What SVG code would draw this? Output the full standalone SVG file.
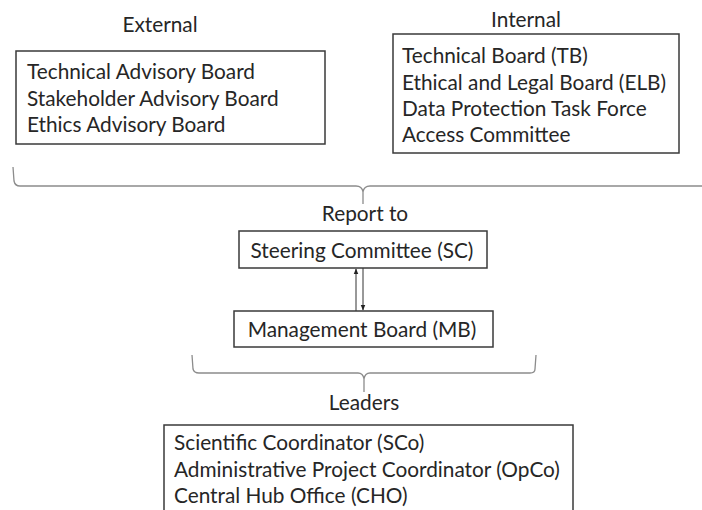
<svg xmlns="http://www.w3.org/2000/svg" width="702" height="510" viewBox="0 0 702 510">
<defs>
<style>
text{font-family:Lato,"Open Sans","Liberation Sans",sans-serif;font-size:20.8px;fill:#262626}
.box{fill:#fff;stroke:#3a3a3a;stroke-width:1.5}
.brace{fill:none;stroke:#8c8c8c;stroke-width:1.3}
.arr{stroke:#333;stroke-width:1;fill:none}
.c{text-anchor:middle}
</style>
<marker id="ah" viewBox="0 0 10 10" refX="9" refY="5" markerWidth="6" markerHeight="6" orient="auto-start-reverse" markerUnits="userSpaceOnUse">
<path d="M0,1 L10,5 L0,9 Z" fill="#222"/>
</marker>
</defs>
<rect width="702" height="510" fill="#fff"/>
<g id="external">
<text class="c" x="160" y="32">External</text>
<rect class="box" x="16" y="51" width="309" height="93"/>
<text x="27" y="79">Technical Advisory Board</text>
<text x="27" y="106">Stakeholder Advisory Board</text>
<text x="27" y="132">Ethics Advisory Board</text>
</g>
<g id="internal">
<text class="c" x="526" y="27">Internal</text>
<rect class="box" x="393" y="34" width="286" height="119"/>
<text x="402" y="63">Technical Board (TB)</text>
<text x="402" y="90">Ethical and Legal Board (ELB)</text>
<text x="402" y="116">Data Protection Task Force</text>
<text x="402" y="142">Access Committee</text>
</g>
<g id="report-to">
<text class="c" x="365" y="221">Report to</text>
</g>
<g id="sc">
<rect class="box" x="239" y="231" width="248" height="37"/>
<text class="c" x="362" y="258">Steering Committee (SC)</text>
</g>
<g id="mb">
<rect class="box" x="234" y="311" width="259" height="36"/>
<text class="c" x="362" y="337">Management Board (MB)</text>
</g>
<g id="leaders-label">
<text class="c" x="364" y="410">Leaders</text>
</g>
<g id="leaders">
<rect class="box" x="164" y="425" width="409" height="100"/>
<text x="174" y="450">Scientific Coordinator (SCo)</text>
<text x="174" y="477">Administrative Project Coordinator (OpCo)</text>
<text x="174" y="503">Central Hub Office (CHO)</text>
</g>
<g id="connectors">
<path class="brace" d="M13,167 L14,181 Q15,186 20,186 L356,186 Q362,186 363,192 L363,204 M363,204 L363,192 Q364,186 370,186 L704,186"/>
<path class="brace" d="M192,355 L193,369 Q194,373 199,373 L358,373 Q363,373 364,379 L364,392 M364,379 Q365,373 370,373 L530,373 Q535,373 535,369 L536,355"/>
<line class="arr" x1="356" y1="311" x2="356" y2="269" marker-end="url(#ah)"/>
<line class="arr" x1="363" y1="268" x2="363" y2="310" marker-end="url(#ah)"/>
</g>
</svg>
